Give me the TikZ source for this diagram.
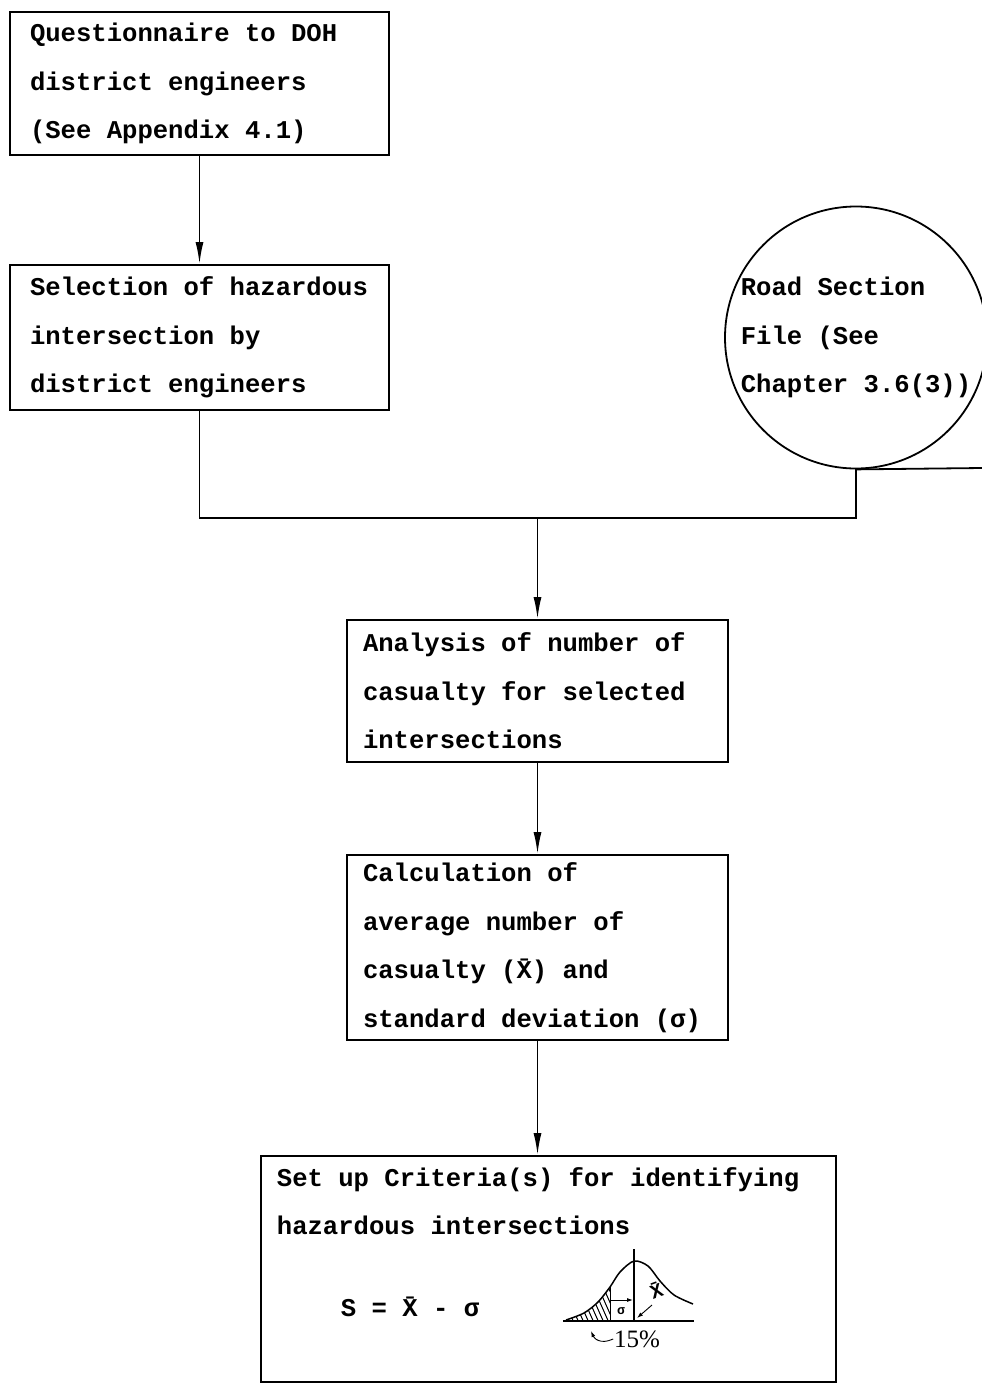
\documentclass[tikz,border=0pt]{standalone}
\usepackage{fontspec}
\setmainfont{Liberation Mono}[WordSpace={1,0,0}]
\newfontfamily\pctfont{Liberation Serif}
\usetikzlibrary{arrows.meta}

\tikzset{
  stepbox/.style={draw, rectangle, align=flush left, inner xsep=20pt, inner ysep=0pt},
  flow/.style={-{Latex[length=22pt,width=8pt]}},
  small/.style={-{Latex[length=6pt,width=4pt]}, line width=0.9pt}
}

\begin{document}
\begin{tikzpicture}[x=1pt, y=1pt, line width=1.8pt, font=\fontsize{25.6}{48.5}\selectfont\bfseries]
    \useasboundingbox (0,0) rectangle (982,-1384);
    % boxes
    \node[stepbox, text width=339pt, minimum height=143pt] (quest) at (199.5,-83.5)
        {Questionnaire to DOH\\district engineers\\(See Appendix 4.1)};
    \node[stepbox, text width=339pt, minimum height=145pt] (select) at (199.5,-337.5)
        {Selection of hazardous\\intersection by\\district engineers};
    \node[draw, circle, inner sep=0pt, minimum size=262pt, align=flush left] (road) at (856,-337.5)
        {Road Section\\File (See\\Chapter 3.6(3))};
    \node[stepbox, inner xsep=16pt, text width=349pt, minimum height=142pt] (anal) at (537.5,-691)
        {Analysis of number of\\casualty for selected\\intersections};
    \node[stepbox, inner xsep=16pt, text width=349pt, minimum height=185pt] (calc) at (537.5,-947.5)
        {Calculation of\\average number of\\casualty (\={X}) and\\standard deviation (σ)};
    \node[draw, rectangle, minimum width=575pt, minimum height=226pt] (crit) at (548.5,-1269) {};
    \node[anchor=west, align=flush left, inner sep=0pt] (crittxt) at (276,-1201)
        {Set up Criteria(s) for identifying\\hazardous intersections};
    \node[anchor=west, inner sep=0pt] (formula) at (340,-1307) {S = \={X} - σ};

    % connectors
    \coordinate (join) at (537.5,-518);
    \coordinate (roadend) at (982,-468);
    \draw[flow] (quest) -- (select);
    \draw (select.south) |- (join) -| (road.south);
    \draw (road.south) -- (roadend);
    \draw[flow] (join) -- (anal.north);
    \draw[flow] (anal) -- (calc);
    \draw[flow] (calc) -- (calc |- crit.north);

    % bell curve
    \begin{scope}
        \clip (566,-1321) -- plot[smooth] coordinates
            {(566,-1320) (584,-1313) (598,-1302) (610,-1287)} -- (610,-1321) -- cycle;
        \foreach \i in {0,...,14}
            \draw[line width=1pt] (545+\i*5,-1280) -- ++(20,-45);
    \end{scope}
    \draw[line width=1.5pt] (563,-1321) -- (694,-1321);
    \draw[line width=1.5pt] (634,-1249) -- (634,-1321);
    \draw[line width=1.5pt] plot[smooth] coordinates {(566,-1320) (584,-1313) (598,-1302)
        (610,-1287) (620,-1272) (634,-1261) (648,-1266) (660,-1281) (674,-1295) (693,-1304)};
    \draw[line width=1pt] (610,-1287) -- (610,-1321);
    \draw[small] (610,-1300) -- (633,-1300);
    \node[font=\fontsize{13}{14}\selectfont\bfseries, inner sep=0pt] (sig) at (621,-1311) {σ};
    \node[font=\fontsize{20}{22}\selectfont\bfseries, inner sep=0pt, rotate=20] (xbar) at (656,-1290) {\={X}};
    \draw[small] (652,-1305) -- (637,-1318);
    \node[font=\pctfont\fontsize{25}{27}\selectfont, inner sep=0pt] (pct) at (637,-1339) {15\%};
    \draw[small] (pct.west) .. controls (600,-1345) and (594,-1338) .. (591,-1331);
\end{tikzpicture}
\end{document}
